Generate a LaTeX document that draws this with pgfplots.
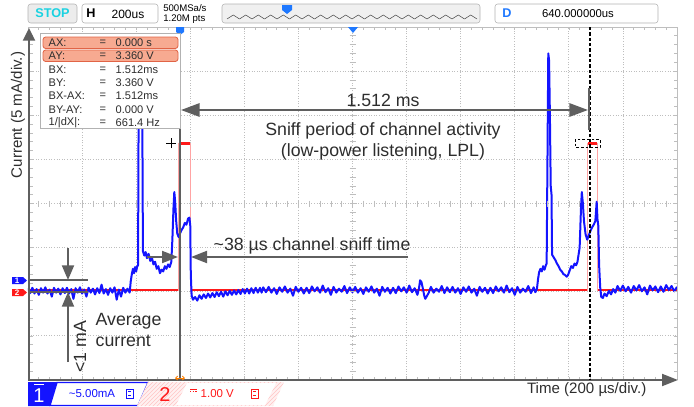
\documentclass[border=0pt]{standalone}
\usepackage{fontspec}
\setmainfont{Liberation Sans}
\usepackage{pgfplots}
\pgfplotsset{compat=1.18}
\usetikzlibrary{arrows.meta,patterns}

\definecolor{chone}{RGB}{20,20,255}
\definecolor{chtwo}{RGB}{255,25,25}
\definecolor{annot}{RGB}{95,95,95}
\definecolor{txt}{RGB}{45,45,45}
\definecolor{gridc}{RGB}{190,190,190}
\definecolor{salmon}{RGB}{247,170,145}
\definecolor{salmonb}{RGB}{225,100,70}
\definecolor{stopc}{RGB}{25,210,225}
\definecolor{trig}{RGB}{30,120,255}

\newcommand\annfont{\fontsize{13.3}{15}\selectfont}
\newcommand\labfont{\fontsize{11.3}{13}\selectfont}
\newcommand\boxfont{\fontsize{8.3}{10}\selectfont}

\begin{document}
\begin{tikzpicture}
\path[use as bounding box] (0,0) rectangle (520.5pt,-305.25pt);

\begin{axis}[
  at={(21pt,-285pt)}, anchor=south west,
  scale only axis, width=486.75pt, height=264.75pt,
  xmin=0, xmax=2400, ymin=0, ymax=40,
  xtick={0,200,...,2400}, ytick={0,5,...,40},
  xticklabels={}, yticklabels={},
  major tick length=0pt,
  grid=major,
  grid style={gridc, line width=0.6pt, dash pattern=on 0.75pt off 1.2pt},
  axis line style={draw=none},
]
% channel 2 (logic level, 1 V/div)
\addplot[chtwo!40, line width=0.5pt] coordinates {
  (0,10.2) (557,10.2) (557,26.8) (599,26.8) (599,10.2)
  (2070,10.2) (2070,26.8) (2105,26.8) (2105,10.2) (2400,10.2)};
\addplot[chtwo, line width=1.1pt, unbounded coords=jump] coordinates {
  (0,10.2) (555,10.2) (556,nan) (601,10.2) (2068,10.2) (2069,nan)
  (2107,10.2) (2400,10.2)};
\addplot[chtwo, line width=2.4pt] coordinates {(557,26.8) (599,26.8)};
\addplot[chtwo, line width=2.4pt] coordinates {(2070,26.8) (2105,26.8)};
% channel 1 (current, 5 mA/div)
\addplot[chone, line width=1.5pt, line join=round] coordinates {
  (0,10.40) (8,9.85) (16,10.45) (24,9.80) (32,10.30) (40,9.65) (48,10.40) (56,9.90)
  (64,10.50) (72,9.80) (80,10.25) (88,9.45) (96,10.45) (104,9.90) (112,10.35) (120,9.70)
  (128,10.40) (136,9.85) (144,10.45) (152,9.80) (160,10.30) (168,9.20) (176,10.40) (184,9.90)
  (192,10.50) (200,9.80) (208,10.25) (216,9.45) (224,10.45) (232,9.90) (240,10.35) (248,9.70)
  (256,10.40) (264,9.85) (272,10.80) (280,9.80) (288,10.30) (296,9.65) (304,10.40) (312,9.90)
  (320,10.50) (328,9.10) (336,10.25) (344,9.45) (352,10.45) (360,9.90) (368,10.35) (376,9.90)
  (380,11.2) (384,12.0) (388,12.6) (392,12.1) (396,12.8) (400,12.3) (404,12.9) (407,13.0)
  (409,30) (412,37) (418,36) (423,28) (425,14.6) (430,14.1) (435,14.5) (440,13.8)
  (446,14.3) (452,13.5) (458,13.9) (464,13.1) (470,13.4) (476,12.6) (482,12.9) (488,12.1)
  (494,12.5) (500,12.3) (506,12.9) (512,12.6) (518,13.1) (524,12.8) (530,13.4) (534,16.0)
  (538,19.5) (541,21.3) (544,20.3) (548,18.0) (552,16.6) (557,16.2) (562,16.6) (568,17.0)
  (574,17.3) (580,17.8) (586,17.6) (592,18.3) (597,18.4) (600,17.5) (602,12.0) (605,9.6)
  (610,9.1) (618,9.4) (626,9.0) (634,9.6) (642,9.2) (650,9.7) (658,9.3) (666,9.8)
  (674,9.35) (682,9.85) (690,9.4) (698,9.95) (706,9.5) (714,10.0) (722,9.45) (730,10.05)
  (738,9.6) (746,10.1) (754,9.65) (762,10.15) (770,9.7) (778,10.2) (786,9.75) (794,10.3)
  (802,9.8) (810,10.35) (818,9.8) (826,10.4) (834,9.85) (842,10.45) (850,9.9) (858,10.45)
  (864,9.9) (870,10.50) (880,9.95) (890,10.55) (900,9.90) (910,10.40) (920,9.75) (930,10.50)
  (940,10.00) (950,10.60) (960,9.90) (970,10.35) (980,9.55) (990,10.55) (1000,10.00) (1010,10.45)
  (1020,9.80) (1030,10.45) (1040,9.85) (1050,10.60) (1060,10.05) (1070,10.50) (1080,9.90) (1090,10.70)
  (1100,9.95) (1110,10.40) (1120,9.65) (1130,10.55) (1140,9.90) (1150,10.35) (1160,10.00) (1170,10.65)
  (1180,9.85) (1190,10.50) (1200,9.95) (1210,10.55) (1220,9.90) (1230,10.40) (1240,9.75) (1250,10.50)
  (1260,10.00) (1270,10.60) (1280,9.90) (1290,10.35) (1300,9.55) (1310,10.55) (1320,10.00) (1330,10.45)
  (1340,9.80) (1350,10.45) (1360,9.85) (1370,10.60) (1380,10.05) (1390,10.50) (1400,9.90) (1410,10.70)
  (1420,9.95) (1430,10.40) (1440,9.65) (1446,10.4) (1450,11.3) (1455,11.1) (1460,10.4) (1465,9.6)
  (1469,9.2) (1475,9.5) (1482,9.9) (1490,10.55) (1500,9.90) (1510,10.35) (1520,10.00) (1530,10.65)
  (1540,9.85) (1550,10.50) (1560,9.95) (1570,10.55) (1580,9.90) (1590,10.40) (1600,9.75) (1610,10.50)
  (1620,10.00) (1630,10.60) (1640,9.90) (1650,10.35) (1660,9.55) (1670,10.55) (1680,10.00) (1690,10.45)
  (1700,9.80) (1710,10.45) (1720,9.85) (1730,10.60) (1740,10.05) (1750,10.50) (1760,9.90) (1770,10.70)
  (1780,9.95) (1790,10.40) (1800,9.65) (1810,10.55) (1820,9.90) (1830,10.35) (1840,10.00) (1850,10.65)
  (1860,9.85) (1870,10.50) (1876,9.95) (1882,10.3) (1886,11.4) (1890,12.2) (1895,12.6) (1900,12.3)
  (1905,12.9) (1910,12.5) (1915,13.0) (1918,13.2) (1921,25) (1924,37.0) (1927,36.2) (1930,30)
  (1933,22) (1936,21) (1938,14.2) (1944,13.9) (1950,13.6) (1956,13.2) (1962,12.9) (1968,12.5)
  (1974,12.3) (1980,12.0) (1986,11.9) (1992,11.7) (1997,11.9) (2003,12.4) (2009,12.9) (2015,12.7)
  (2021,13.2) (2027,13.0) (2032,13.4) (2040,15.0) (2045,19.5) (2048,21.3) (2052,20.0) (2056,18.0)
  (2062,16.5) (2068,15.9) (2074,16.4) (2080,16.9) (2086,17.3) (2092,17.6) (2098,18.0) (2103,20.2)
  (2106,18.2) (2109,17.5) (2112,13.0) (2116,10.5) (2120,9.4) (2126,9.3) (2132,9.8) (2140,9.5)
  (2148,10.1) (2156,9.7) (2164,10.3) (2172,9.9) (2180,10.65) (2190,10.10) (2200,10.70) (2210,10.05)
  (2220,10.55) (2230,9.90) (2240,10.65) (2250,10.15) (2260,10.75) (2270,10.05) (2280,10.50) (2290,9.70)
  (2300,10.70) (2310,10.15) (2320,10.60) (2330,9.95) (2340,10.60) (2350,10.00) (2360,10.75) (2370,10.20)
  (2380,10.65) (2390,10.05) (2400,10.55)};
\end{axis}

\begin{scope}[x=0.75pt, y=-0.75pt]
% frame and scope ticks
\draw[gridc, line width=0.75pt] (28,27) -- (677,27) -- (677,380);
\foreach \i in {1,...,59} {
  \draw[gridc, line width=0.5pt] ({28+\i*10.8167},27) -- ++(0,3);
  \draw[gridc, line width=0.5pt] ({28+\i*10.8167},380) -- ++(0,-3);
  \draw[gridc, line width=0.5pt] ({28+\i*10.8167},200.5) -- ++(0,6);
}
\foreach \j in {1,...,39} {
  \draw[gridc, line width=0.5pt] (30,{27+\j*8.825}) -- ++(3,0);
  \draw[gridc, line width=0.5pt] (677,{27+\j*8.825}) -- ++(-3,0);
  \draw[gridc, line width=0.5pt] (349.5,{27+\j*8.825}) -- ++(6,0);
}

% axes arrows
\draw[annot, line width=1.5pt, -{Triangle[length=9.5pt,width=9pt]}] (29,380) -- (29,28);
\draw[annot, line width=1.5pt, -{Triangle[length=12pt,width=9pt]}] (28,380) -- (678,380);
\node[txt, rotate=90, font=\labfont] at (18,115) {Current (5 mA/div.)};
\node[txt, anchor=east, font=\labfont] at (651,390) {Time (200 µs/div.)};

% cursors
\draw[annot, line width=1.5pt] (180,90) -- (180,380);
\draw[black, line width=0.9pt, dash pattern=on 2.5pt off 1.5pt] (590,27) -- (590,380);
\draw[annot, line width=1.8pt] (589,88) -- (589,130);
\draw[black, line width=0.6pt] (166,143) -- (176,143) (171,138) -- (171,148);
\draw[black, line width=0.5pt, dash pattern=on 2pt off 1.5pt] (575,139) rectangle (600,147);
\fill[trig] (176,27) -- (184,27) -- (184,32) -- (180,35) -- (176,32) -- cycle;
\fill[trig] (348,27) -- (358,27) -- (353,33) -- cycle;
\draw[orange, line width=0.7pt, {Straight Barb[length=1.5pt]}-{Straight Barb[length=1.5pt]}] (175,378) -- (185,378);

% period annotation
\draw[annot, line width=1.5pt, {Triangle[length=14pt,width=10pt]}-{Triangle[length=14pt,width=10pt]}] (181,110) -- (588,110);
\node[txt, font=\annfont] at (383,100) {1.512 ms};
\node[txt, font=\annfont] at (383,131) {Sniff period of channel activity};
\node[txt, font=\annfont] at (383,152) {(low-power listening, LPL)};

% sniff time annotation
\draw[annot, line width=1.5pt, -{Triangle[length=12pt,width=9pt]}] (147,257) -- (178,257);
\draw[annot, line width=1.5pt, -{Triangle[length=12pt,width=9pt]}] (408,257) -- (191,257);
\node[txt, anchor=west, font=\annfont] at (209,246) {\textasciitilde38 µs channel sniff time};

% average current annotation
\draw[annot, line width=1.2pt] (29,280) -- (88,280) (29,292) -- (88,292);
\draw[annot, line width=1.5pt, -{Triangle[length=11pt,width=9pt]}] (68,248) -- (68,280);
\draw[annot, line width=1.5pt, -{Triangle[length=11pt,width=9pt]}] (68,362) -- (68,292);
\node[txt, rotate=90, font=\annfont] at (80,347) {<1 mA};
\node[txt, anchor=west, font=\annfont] at (91,321) {Average};
\node[txt, anchor=west, font=\annfont] at (91,341) {current};

% channel tags
\fill[chone] (12,277) -- (23,277) -- (27,280.5) -- (23,284) -- (12,284) -- cycle;
\node[white, font=\fontsize{6}{6}\selectfont\bfseries] at (17,280.5) {1};
\fill[chtwo] (12,289) -- (23,289) -- (27,292.5) -- (23,296) -- (12,296) -- cycle;
\node[white, font=\fontsize{6}{6}\selectfont\bfseries] at (17,292.5) {2};

% cursor readout box
\draw[gray!60, fill=white, line width=0.6pt] (40,33) rectangle (180,128);
\draw[salmonb, fill=salmon, rounded corners=2pt, line width=0.6pt] (43,37) rectangle (178,48.5);
\draw[salmonb, fill=salmon, rounded corners=2pt, line width=0.6pt] (43,50) rectangle (178,61.5);
\foreach \lab/\val [count=\k] in {AX:/0.000 s, AY:/3.360 V, BX:/1.512ms, BY:/3.360 V,
    BX-AX:/1.512ms, BY-AY:/0.000 V, {1/|dX|:}/661.4 Hz} {
  \node[txt, anchor=west, font=\boxfont] at (44,{29.5+\k*13.3}) {\lab};
  \node[txt, anchor=west, font=\boxfont] at (95,{29.5+\k*13.3}) {=};
  \node[txt, anchor=west, font=\boxfont] at (111,{29.5+\k*13.3}) {\val};
}

% top status bar
\draw[gray!60, fill=gray!15, rounded corners=2pt] (28,4) rectangle (77,23);
\node[stopc, font=\fontsize{9.5}{10}\selectfont\bfseries] at (52.5,13.5) {STOP};
\draw[gray!60, fill=white, rounded corners=2pt] (82,4) rectangle (158,23);
\node[black, font=\fontsize{9.5}{10}\selectfont\bfseries] at (91,13.5) {H};
\node[black, font=\fontsize{9}{10}\selectfont] at (128,14) {200us};
\node[black, anchor=west, font=\fontsize{7.2}{8}\selectfont, inner sep=0pt] at (163,8.5) {500MSa/s};
\node[black, anchor=west, font=\fontsize{7.2}{8}\selectfont, inner sep=0pt] at (163,19) {1.20M pts};
\draw[gray!60, fill=gray!12, rounded corners=2pt] (222,4) rectangle (480,23);
\foreach \i in {0,...,19} {
  \draw[gray!60!black, line width=0.4pt] ({227+\i*12.5},19) -- ({233.25+\i*12.5},15) -- ({239.5+\i*12.5},19);
}
\fill[trig] (282,5) -- (292,5) -- (292,10) -- (287,14) -- (282,10) -- cycle;
\draw[gray!60, fill=white, rounded corners=2pt] (495,4) rectangle (658,23);
\node[trig, font=\fontsize{9.5}{10}\selectfont\bfseries] at (507,13.5) {D};
\node[black, font=\fontsize{8.5}{10}\selectfont] at (578,14) {640.000000us};

% bottom channel bar
\fill[chone] (28,382) -- (57,382) -- (50,406) -- (28,406) -- cycle;
\node[white, font=\fontsize{15}{15}\selectfont] at (39,396) {1};
\draw[white, line width=0.8pt] (34,384.5) -- (44,384.5);
\draw[chone, line width=1pt, fill=white] (57,382.5) -- (148,382.5) -- (138,405.5) -- (50,405.5) -- cycle;
\node[chone, font=\fontsize{8.6}{10}\selectfont] at (92,394) {\textasciitilde5.00mA};
\draw[chone, line width=0.6pt] (126,389) rectangle (133,398) (128,391.5) -- (131,391.5) (128,395.5) -- (131,395.5);
\fill[chtwo!6] (148,382) -- (284,382) -- (273,406) -- (137,406) -- cycle;
\fill[pattern=north east lines, pattern color=chtwo!25] (148,382) -- (284,382) -- (273,406) -- (137,406) -- cycle;
\fill[white] (187,383) -- (276,383) -- (265,405) -- (176,405) -- cycle;
\node[chtwo, font=\fontsize{15}{15}\selectfont] at (165,395) {2};
\draw[chtwo, line width=0.6pt] (190,389.5) -- (197,389.5);
\draw[chtwo, line width=0.6pt, dash pattern=on 1pt off 1pt] (190,391.5) -- (197,391.5);
\node[chtwo, anchor=west, font=\fontsize{8.6}{10}\selectfont] at (196,394) {1.00 V};
\draw[chtwo, line width=0.6pt] (251,389) rectangle (258,398) (253,391.5) -- (256,391.5) (253,395.5) -- (256,395.5);
\end{scope}
\end{tikzpicture}
\end{document}
